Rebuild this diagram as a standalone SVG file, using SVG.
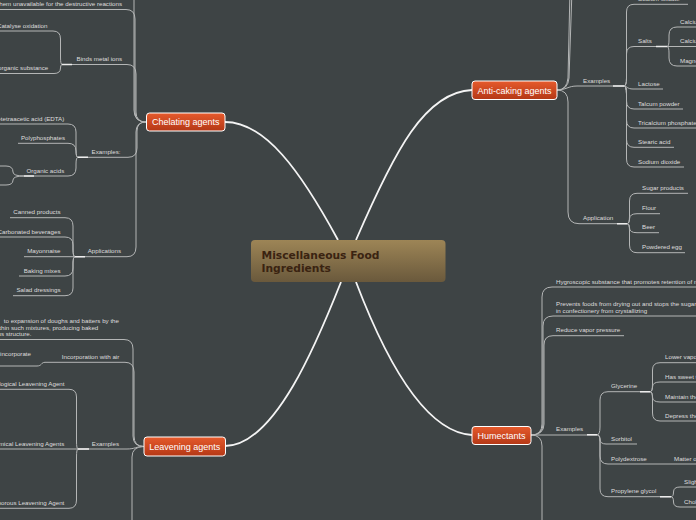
<svg xmlns="http://www.w3.org/2000/svg" width="696" height="520" viewBox="0 0 696 520">
<defs>
<linearGradient id="og" x1="0" y1="0" x2="0" y2="1"><stop offset="0" stop-color="#e65a2c"/><stop offset="1" stop-color="#b43816"/></linearGradient>
<linearGradient id="cg" x1="0" y1="0" x2="0" y2="1"><stop offset="0" stop-color="#9d8556"/><stop offset="1" stop-color="#6a593c"/></linearGradient>
</defs>
<style>
.l{fill:none;stroke:#b4b6b6;stroke-width:1}
.hl{fill:none;stroke:#ececec;stroke-width:1.6}
.m{fill:none;stroke:#f4f4f4;stroke-width:1.8}
.t{font-family:"Liberation Sans",Arial,sans-serif;font-size:6.2px;fill:#dedede}
.e{text-anchor:end}
.n rect{fill:url(#og);stroke:#ffffff;stroke-width:1}
.n text{font-family:"Liberation Sans",Arial,sans-serif;font-size:9px;fill:#ffffff;text-anchor:middle}
</style>
<rect x="0" y="0" width="696" height="520" fill="#3e4445"/>
<g id="connectors">
<path class="m" d="M225,122 C265,122 300,170 338,240"/>
<path class="m" d="M356,240 C395,150 425,92 472,90"/>
<path class="m" d="M341,282 C318,340 275,446 225,446"/>
<path class="m" d="M356,282 C380,345 420,432 472,435"/>
<!-- Chelating -->
<path class="l" d="M146,122 Q134,122 134,110 V-10"/>
<path class="l" d="M146,122 Q135,122 135,112 V19 Q135,9.5 126,9.5 H-5"/>
<path class="l" d="M146,122 Q136,122 136,112 V74 Q136,64.5 127,64.5 H62"/>
<path class="l" d="M146,122 Q137,122 137,131 V148 Q137,157.3 128,157.3 H78"/>
<path class="l" d="M146,122 Q136,122 136,132 V247 Q136,256.7 127,256.7 H75"/>
<path class="l" d="M62,64.5 Q60.5,64.5 60.5,57 V39 Q60.5,31 53,31 H-5"/>
<path class="l" d="M62,64.5 Q60.5,64.5 60.5,68 Q60.5,73.5 54,73.5 H-5"/>
<path class="l" d="M78,157.3 Q76,157.3 76,150 V132 Q76,124 68,124 H-5"/>
<path class="l" d="M78,157.3 Q76,157.3 76,151 Q76,143.3 68,143.3 H18"/>
<path class="l" d="M78,157.3 Q76,157.3 76,164 V168 Q76,176 68,176 H24"/>
<path class="l" d="M24,176 Q13,176 13,172 Q13,166 6,166 H-5"/>
<path class="l" d="M24,176 Q13,176 13,180 Q13,185 6,185 H-5"/>
<path class="l" d="M75,256.7 Q73,256.7 73,249 V226 Q73,217.7 65,217.7 H10"/>
<path class="l" d="M75,256.7 Q73,256.7 73,250 V245 Q73,237 65,237 H-5"/>
<path class="l" d="M75,256.7 H24"/>
<path class="l" d="M75,256.7 Q73,256.7 73,262 V268 Q73,276 65,276 H19"/>
<path class="l" d="M75,256.7 Q73,256.7 73,264 V288 Q73,295.7 65,295.7 H13"/>
<path class="hl" d="M62,64.5 H72 M78,157.3 H88 M24,176 H34 M75,256.7 H85"/>
<!-- Leavening -->
<path class="l" d="M144,446.5 Q133,446.5 133,436 V349 Q133,339.5 124,339.5 H-5"/>
<path class="l" d="M144,446.5 Q134,446.5 134,436 V372 Q134,362.3 125,362.3 H45"/>
<path class="l" d="M144,446.5 C136,446.5 135,449 127,449 H78"/>
<path class="l" d="M144,446.5 Q132,446.5 132,457 V530"/>
<path class="l" d="M45,362.3 C41,362.3 42,366 37,366 H-5"/>
<path class="l" d="M78,449 Q76.5,449 76.5,441 V397 Q76.5,389.3 69,389.3 H-5"/>
<path class="l" d="M78,449 H-5"/>
<path class="l" d="M78,449 Q76.5,449 76.5,457 V500 Q76.5,508.3 69,508.3 H-5"/>
<path class="hl" d="M78,449 H89"/>
<!-- Anti-caking -->
<path class="l" d="M557,90 Q567,90 568,78 L570,-10"/>
<path class="l" d="M557,90 Q568,90 569,78 L572,-10"/>
<path class="l" d="M557,90 C566,90 568,86 577,86 H624"/>
<path class="l" d="M557,90 Q568,90 568,102 V212 Q568,223.7 579,223.7 H627"/>
<path class="l" d="M624,86 Q626.5,86 626.5,78 V12 Q626.5,4.3 634,4.3 H688"/>
<path class="l" d="M624,86 Q626.5,86 626.5,78 V54 Q626.5,46.5 634,46.5 H667"/>
<path class="l" d="M624,86 C627,86 627,89 633,89 H663"/>
<path class="l" d="M624,86 Q626.5,86 626.5,94 V101 Q626.5,109 634,109 H683"/>
<path class="l" d="M624,86 Q626.5,86 626.5,94 V120 Q626.5,128 634,128 H700"/>
<path class="l" d="M624,86 Q626.5,86 626.5,94 V139.5 Q626.5,147.3 634,147.3 H674"/>
<path class="l" d="M624,86 Q626.5,86 626.5,94 V159 Q626.5,167 634,167 H684"/>
<path class="l" d="M667,46.5 Q669,46.5 669,40 V35 Q669,27 677,27 H700"/>
<path class="l" d="M667,46.5 H700"/>
<path class="l" d="M667,46.5 Q669,46.5 669,53 V58 Q669,66 677,66 H700"/>
<path class="l" d="M627,223.7 Q629.5,223.7 629.5,216 V201 Q629.5,193.3 637,193.3 H688"/>
<path class="l" d="M627,223.7 Q629.5,223.7 629.5,219 Q629.5,213.7 637,213.7 H660"/>
<path class="l" d="M627,223.7 Q629.5,223.7 629.5,228 Q629.5,232.7 637,232.7 H659"/>
<path class="l" d="M627,223.7 Q629.5,223.7 629.5,231 V245 Q629.5,252.7 637,252.7 H685"/>
<path class="hl" d="M613,86 H624 M656,46.5 H667 M617,223.7 H627"/>
<!-- Humectants -->
<path class="l" d="M531,435 Q542,435 542,424 V297 Q542,287 552,287 H700"/>
<path class="l" d="M531,435 Q543,435 543,424 V326 Q543,316 553,316 H700"/>
<path class="l" d="M531,435 Q544,435 544,424 V345 Q544,335.7 553,335.7 H624"/>
<path class="l" d="M531,435 H597"/>
<path class="l" d="M531,435 Q542,435 542,446 V530"/>
<path class="l" d="M597,434.7 Q600,434.7 600,427 V400 Q600,391.7 608,391.7 H650"/>
<path class="l" d="M597,434.7 Q600,434.7 600,439 Q600,444 606,444 H637"/>
<path class="l" d="M597,434.7 Q600,434.7 600,442 V456 Q600,464 608,464 H700"/>
<path class="l" d="M597,434.7 Q600,434.7 600,442 V489 Q600,496.7 608,496.7 H671"/>
<path class="l" d="M650,391.7 Q652.5,391.7 652.5,384 V370 Q652.5,362.7 660,362.7 H700"/>
<path class="l" d="M650,391.7 Q652.5,391.7 652.5,387 Q652.5,382 660,382 H700"/>
<path class="l" d="M650,391.7 Q652.5,391.7 652.5,397 Q652.5,402 660,402 H700"/>
<path class="l" d="M650,391.7 Q652.5,391.7 652.5,399 V413 Q652.5,421 660,421 H700"/>
<path class="l" d="M671,496.7 Q673.5,496.7 673.5,492 Q673.5,487 680,487 H700"/>
<path class="l" d="M671,496.7 Q673.5,496.7 673.5,502 Q673.5,507 680,507 H700"/>
<path class="hl" d="M587,434.7 H597 M640,391.7 H650 M660,496.7 H671"/>
</g>
<g id="central">
<rect x="251" y="240" width="194.5" height="42" rx="4" fill="url(#cg)"/>
<text x="261.5" y="259" font-family="DejaVu Sans,Verdana,sans-serif" font-weight="bold" font-size="10.7" fill="#3a2311">Miscellaneous Food</text>
<text x="261.5" y="271.8" font-family="DejaVu Sans,Verdana,sans-serif" font-weight="bold" font-size="10.7" fill="#3a2311">Ingredients</text>
</g>
<g id="chelating" class="n"><rect x="146.5" y="113" width="78.5" height="18" rx="3"/><text x="185.7" y="125.3">Chelating agents</text></g>
<g id="anticaking" class="n"><rect x="472" y="81" width="85" height="18.5" rx="3"/><text x="514.5" y="93.5">Anti-caking agents</text></g>
<g id="leavening" class="n"><rect x="144" y="437" width="81.5" height="19" rx="3"/><text x="184.8" y="449.6">Leavening agents</text></g>
<g id="humectants" class="n"><rect x="472" y="426.5" width="59" height="18" rx="3"/><text x="501.5" y="438.6">Humectants</text></g>
<g id="chelating-children" class="t">
<text id="c-unavail" class="e" x="122" y="6">them unavailable for the destructive reactions</text>
<text id="c-binds" class="e" x="122" y="61">Binds metal ions</text>
<text id="c-catalyse" class="e" x="47.5" y="27.5">Catalyse oxidation</text>
<text id="c-organic-sub" class="e" x="48.3" y="70">organic substance</text>
<text id="c-examples" class="e" x="120.5" y="154">Examples:</text>
<text id="c-edta" class="e" x="64.3" y="120.5">Ethylenediaminetetraacetic acid (EDTA)</text>
<text id="c-poly" class="e" x="65" y="140">Polyphosphates</text>
<text id="c-orgacids" class="e" x="64.3" y="172.5">Organic acids</text>
<text id="c-applications" class="e" x="121" y="253.2">Applications</text>
<text id="c-canned" class="e" x="60.5" y="214.2">Canned products</text>
<text id="c-carbonated" class="e" x="60.5" y="233.5">Carbonated beverages</text>
<text id="c-mayo" class="e" x="60.5" y="253.2">Mayonnaise</text>
<text id="c-baking" class="e" x="60.5" y="272.5">Baking mixes</text>
<text id="c-salad" class="e" x="60.5" y="292.2">Salad dressings</text>
</g>
<g id="leavening-children" class="t">
<text id="l-def1" class="e" x="119" y="323">to expansion of doughs and batters by the</text>
<text id="l-def2" class="e" x="98.3" y="329.5">within such mixtures, producing baked</text>
<text id="l-def3" class="e" x="31.5" y="336">porous structure.</text>
<text id="l-air" class="e" x="119.3" y="359">Incorporation with air</text>
<text id="l-incorp" class="e" x="31" y="356">incorporate</text>
<text id="l-examples" class="e" x="119" y="445.5">Examples</text>
<text id="l-bio" class="e" x="64.5" y="386">Biological Leavening Agent</text>
<text id="l-chem" class="e" x="64.3" y="445.5">Chemical Leavening Agents</text>
<text id="l-vap" class="e" x="64.3" y="505">Vaporous Leavening Agent</text>
</g>
<g id="anticaking-children" class="t">
<text id="a-examples" x="583" y="82.5">Examples</text>
<text id="a-sodsil" x="638" y="0.8">Sodium silicate</text>
<text id="a-salts" x="638" y="43">Salts</text>
<text id="a-ca1" x="680" y="23.5">Calcium silicate</text>
<text id="a-ca2" x="680" y="43">Calcium stearate</text>
<text id="a-mg" x="680" y="62.5">Magnesium stearate</text>
<text id="a-lactose" x="638" y="85.5">Lactose</text>
<text id="a-talcum" x="638" y="105.5">Talcum powder</text>
<text id="a-tricalcium" x="638" y="124.5">Tricalcium phosphate</text>
<text id="a-stearic" x="638" y="143.8">Stearic acid</text>
<text id="a-sodiox" x="638" y="163.5">Sodium dioxide</text>
<text id="a-application" x="583" y="220.2">Application</text>
<text id="a-sugar" x="642" y="189.8">Sugar products</text>
<text id="a-flour" x="642" y="210.2">Flour</text>
<text id="a-beer" x="642" y="229.2">Beer</text>
<text id="a-egg" x="642" y="249.2">Powdered egg</text>
</g>
<g id="humectants-children" class="t">
<text id="h-hygro" x="556" y="283.5">Hygroscopic substance that promotes retention of moisture</text>
<text id="h-prevents" x="556" y="306">Prevents foods from drying out and stops the sugar</text>
<text id="h-prevents2" x="556" y="312.5">in confectionery from crystallizing</text>
<text id="h-reduce" x="556" y="332.2">Reduce vapor pressure</text>
<text id="h-examples" x="556" y="431.2">Examples</text>
<text id="h-glycerine" x="611" y="388.2">Glycerine</text>
<text id="h-g1" x="665" y="359.2">Lower vapor pressure</text>
<text id="h-g2" x="665" y="378.5">Has sweet taste</text>
<text id="h-g3" x="665" y="398.5">Maintain the moisture</text>
<text id="h-g4" x="665" y="417.5">Depress the freezing point</text>
<text id="h-sorbitol" x="611" y="440.5">Sorbitol</text>
<text id="h-polydextrose" x="611" y="460.5">Polydextrose</text>
<text id="h-matter" x="674" y="460.5">Matter of</text>
<text id="h-propylene" x="611" y="493.2">Propylene glycol</text>
<text id="h-p1" x="684" y="483.5">Slightly</text>
<text id="h-p2" x="684" y="503.5">Cholesterol</text>
</g>
</svg>
